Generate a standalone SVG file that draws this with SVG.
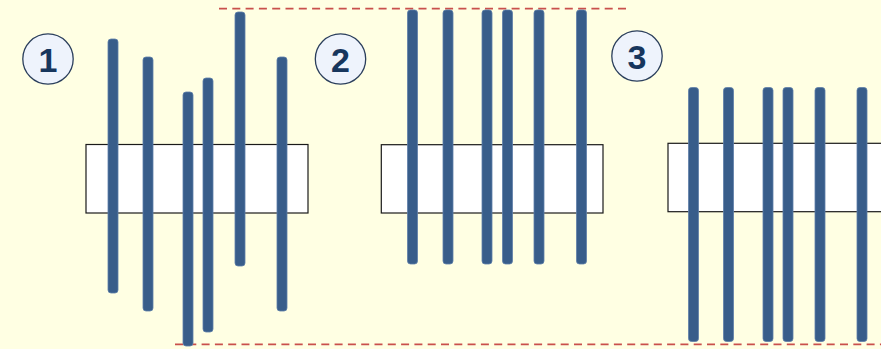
<svg xmlns="http://www.w3.org/2000/svg" width="881" height="349" viewBox="0 0 881 349">
  <style>
    .bg { fill: #FFFFE3; }
    .box { fill: #FFFFFF; stroke: #1A1A1A; stroke-width: 1.2; }
    .bar { fill: #385D8A; stroke: #5E7FA8; stroke-width: 0.8; }
    .badge { fill: #EEF3FC; stroke: #2B3F5C; stroke-width: 1.3; }
    .num { font-family: "Liberation Sans", Arial, sans-serif; font-weight: bold; font-size: 34px; fill: #17365D; text-anchor: middle; }
    .guide { stroke: #C9504C; stroke-width: 1.8; stroke-dasharray: 8 5.3; fill: none; }
  </style>
  <defs>
    <rect id="b" x="-5" y="0" width="10" height="254" rx="3" ry="3"/>
  </defs>
  <rect class="bg" x="0" y="0" width="881" height="349"/>

  <g id="connectors">
    <line class="guide" x1="219" y1="8.7" x2="628" y2="8.7"/>
    <line class="guide" x1="175" y1="344.3" x2="881" y2="344.3"/>
  </g>

  <!-- panel 1: staggered bars -->
  <g id="panel1">
    <rect class="box" x="86" y="144.5" width="222" height="68.5"/>
    <g class="bar">
      <use href="#b" x="113" y="39"/>
      <use href="#b" x="148" y="57"/>
      <use href="#b" x="188" y="92"/>
      <use href="#b" x="208" y="78"/>
      <use href="#b" x="240" y="12"/>
      <use href="#b" x="282" y="57"/>
    </g>
  </g>
  <g id="badge1">
    <circle class="badge" cx="48" cy="59" r="25.2"/>
    <text class="num" x="48" y="71.5">1</text>
  </g>

  <!-- panel 2: bars aligned at the top -->
  <g id="panel2">
    <rect class="box" x="381.3" y="144.7" width="221.7" height="68.3"/>
    <g class="bar">
      <use href="#b" x="412.5" y="10"/>
      <use href="#b" x="448" y="10"/>
      <use href="#b" x="487" y="10"/>
      <use href="#b" x="507.5" y="10"/>
      <use href="#b" x="539" y="10"/>
      <use href="#b" x="581.5" y="10"/>
    </g>
  </g>
  <g id="badge2">
    <circle class="badge" cx="340.5" cy="59" r="25.2"/>
    <text class="num" x="340.5" y="71.5">2</text>
  </g>

  <!-- panel 3: bars aligned at the bottom -->
  <g id="panel3">
    <rect class="box" x="668" y="143.3" width="222" height="68.4"/>
    <g class="bar">
      <use href="#b" x="693.5" y="87.5"/>
      <use href="#b" x="728.5" y="87.5"/>
      <use href="#b" x="768" y="87.5"/>
      <use href="#b" x="788" y="87.5"/>
      <use href="#b" x="820" y="87.5"/>
      <use href="#b" x="862" y="87.5"/>
    </g>
  </g>
  <g id="badge3">
    <circle class="badge" cx="637" cy="56" r="25.2"/>
    <text class="num" x="637" y="68.5">3</text>
  </g>
</svg>
